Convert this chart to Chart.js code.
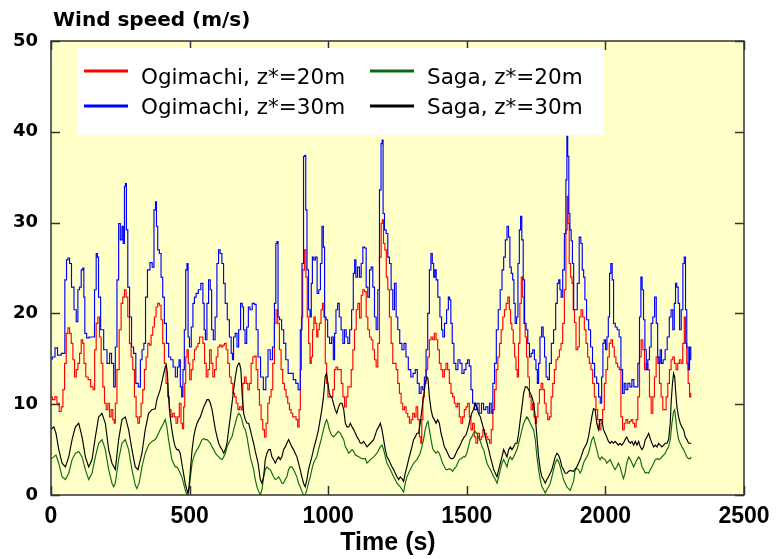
<!DOCTYPE html>
<html>
<head>
<meta charset="utf-8">
<script src="https://cdn.jsdelivr.net/npm/chart.js@4.4.1/dist/chart.umd.min.js"></script>
<style>
html,body{margin:0;padding:0;background:#fff;}
#c{display:block;}
</style>
</head>
<body>
<canvas id="c" width="778" height="559"></canvas>
<script>
// Axis ticks
const xTicks = [0, 500, 1000, 1500, 2000, 2500];
const yTicks = [0, 10, 20, 30, 40, 50];
const seriesNames = ["Ogimachi, z*=20m", "Saga, z*=20m", "Ogimachi, z*=30m", "Saga, z*=30m"];

// [time (s), wind speed (m/s)]
const ogimachi20 = [[0,10.8],[10,10.5],[18,10.8],[25,10.1],[34,9.2],[40,9.7],[46,11.6],[52,14.5],[58,17.8],[64,18.4],[70,17.8],[76,16.7],[82,14.9],[88,13.0],[94,13.8],[100,14.5],[106,15.6],[112,17.1],[117,16.7],[121,14.5],[130,13.0],[138,12.7],[148,11.9],[155,11.6],[160,16.0],[166,18.9],[172,19.6],[178,17.4],[184,14.5],[190,11.9],[196,10.1],[202,9.4],[208,10.1],[214,8.6],[220,9.4],[226,8.3],[230,7.9],[234,10.1],[242,13.8],[250,18.2],[256,21.1],[262,21.8],[268,22.6],[274,21.8],[280,19.6],[286,16.7],[292,15.2],[298,13.8],[304,10.8],[310,8.6],[316,7.9],[322,8.6],[328,10.1],[334,11.6],[340,13.8],[346,15.2],[352,16.7],[358,16.5],[364,17.6],[370,18.5],[376,19.6],[382,20.7],[388,21.1],[394,20.9],[400,19.3],[406,16.7],[412,14.5],[418,12.3],[424,10.8],[430,9.4],[436,8.6],[442,9.0],[448,8.6],[454,7.9],[460,8.6],[466,10.1],[472,7.9],[476,7.3],[481,9.7],[484,12.3],[488,15.2],[493,16.0],[498,14.5],[503,12.7],[509,13.8],[515,14.9],[520,16.0],[527,16.3],[533,16.7],[539,17.4],[545,17.4],[551,16.7],[557,14.5],[563,13.0],[569,13.8],[575,16.0],[581,14.5],[587,13.0],[593,13.8],[599,15.2],[605,16.3],[611,16.5],[617,16.3],[623,16.5],[629,16.7],[635,16.0],[641,14.5],[647,13.0],[653,12.3],[659,11.2],[665,10.8],[671,10.1],[677,9.4],[683,9.7],[689,9.4],[695,12.3],[701,13.0],[707,12.3],[713,11.6],[719,12.3],[725,14.5],[731,15.2],[737,15.3],[743,13.8],[749,11.6],[755,9.9],[761,8.3],[767,7.2],[773,6.4],[779,7.9],[785,10.1],[791,10.8],[797,11.6],[803,14.5],[809,18.9],[815,20.4],[821,18.9],[827,16.0],[833,13.8],[839,12.3],[845,11.6],[851,10.8],[857,10.1],[863,9.4],[869,9.0],[875,8.6],[881,8.6],[887,8.3],[893,7.5],[897,9.4],[902,13.8],[905,19.6],[911,24.8],[917,27.0],[922,24.0],[927,19.6],[932,16.7],[937,14.5],[941,15.2],[946,18.2],[951,19.6],[956,18.9],[961,17.4],[965,18.2],[971,18.9],[977,20.4],[982,21.1],[987,19.6],[992,14.5],[997,12.3],[1001,10.8],[1007,10.8],[1013,10.8],[1020,11.6],[1025,13.8],[1031,14.1],[1037,13.8],[1044,13.8],[1050,12.3],[1056,10.8],[1062,9.7],[1068,10.8],[1074,11.9],[1080,11.9],[1086,13.8],[1092,16.0],[1098,18.2],[1104,20.4],[1110,21.1],[1116,19.5],[1122,22.0],[1128,22.6],[1134,22.4],[1140,19.6],[1146,18.2],[1152,17.4],[1158,17.1],[1164,16.0],[1170,14.9],[1176,14.1],[1182,16.7],[1188,26.2],[1194,29.9],[1197,30.3],[1202,27.7],[1207,27.0],[1212,24.0],[1218,22.6],[1224,19.6],[1230,16.7],[1236,14.5],[1242,14.5],[1248,13.8],[1254,12.3],[1260,11.2],[1266,10.1],[1272,9.4],[1278,9.7],[1284,9.0],[1290,8.6],[1296,7.9],[1302,8.3],[1308,9.0],[1314,8.6],[1320,9.7],[1326,8.3],[1332,6.4],[1336,5.7],[1339,8.3],[1344,10.8],[1350,12.3],[1356,13.8],[1362,15.2],[1368,17.1],[1374,17.4],[1380,17.1],[1386,17.8],[1392,17.1],[1398,16.0],[1404,14.5],[1410,13.8],[1416,13.0],[1422,13.8],[1428,14.5],[1434,13.8],[1440,12.3],[1446,11.2],[1452,10.8],[1458,10.1],[1464,9.7],[1470,10.1],[1476,8.6],[1482,7.9],[1488,8.6],[1494,9.4],[1500,9.7],[1506,10.1],[1512,8.6],[1518,7.2],[1524,7.9],[1530,6.4],[1536,5.7],[1542,6.8],[1549,6.1],[1555,6.4],[1561,7.2],[1567,6.8],[1573,6.4],[1579,6.1],[1585,5.7],[1591,7.2],[1597,9.4],[1603,11.6],[1609,13.8],[1615,15.2],[1621,16.7],[1627,18.2],[1633,19.6],[1639,20.4],[1645,21.1],[1651,21.8],[1656,20.4],[1660,18.9],[1665,18.2],[1670,16.7],[1675,15.2],[1680,13.8],[1684,13.0],[1689,16.7],[1694,21.1],[1699,24.0],[1704,21.8],[1708,18.9],[1713,17.4],[1718,15.2],[1723,13.0],[1729,10.8],[1735,9.4],[1740,10.1],[1745,8.6],[1749,7.9],[1754,8.6],[1759,10.1],[1765,11.6],[1771,12.3],[1777,11.6],[1783,10.1],[1789,9.0],[1795,8.3],[1801,8.6],[1807,10.8],[1813,12.3],[1819,13.8],[1825,14.9],[1831,15.2],[1837,16.0],[1843,16.7],[1849,18.9],[1855,22.6],[1860,29.2],[1864,32.9],[1867,29.9],[1872,25.5],[1877,24.0],[1882,23.3],[1886,20.4],[1891,19.0],[1897,16.0],[1903,16.3],[1909,19.6],[1915,20.4],[1921,19.6],[1927,18.2],[1933,16.7],[1939,15.2],[1945,14.5],[1951,13.8],[1957,12.3],[1963,10.8],[1969,9.4],[1975,8.3],[1981,7.2],[1987,7.9],[1993,9.4],[1999,12.3],[2005,13.8],[2011,15.2],[2017,16.7],[2023,17.1],[2029,16.3],[2035,15.2],[2041,14.5],[2047,14.1],[2053,13.8],[2059,8.6],[2065,7.2],[2071,7.9],[2077,8.3],[2084,7.9],[2090,8.1],[2096,8.3],[2102,7.9],[2108,7.5],[2114,8.3],[2120,10.8],[2126,15.2],[2132,17.1],[2138,16.0],[2144,13.8],[2150,14.5],[2156,13.8],[2162,10.8],[2168,9.0],[2174,10.8],[2180,13.0],[2186,15.2],[2192,14.5],[2198,12.3],[2204,10.8],[2210,9.4],[2216,9.4],[2222,10.8],[2228,12.3],[2234,13.8],[2240,14.9],[2246,15.2],[2252,14.5],[2258,13.8],[2264,14.5],[2270,14.9],[2276,14.5],[2282,16.7],[2287,19.6],[2291,16.7],[2296,14.5],[2301,12.3],[2306,10.8],[2310,11.2]];

const ogimachi30 = [[0,15.0],[10,15.2],[19,16.2],[28,15.4],[46,15.6],[54,23.7],[58,25.9],[64,26.1],[70,25.5],[78,22.9],[88,20.4],[94,19.1],[100,22.6],[106,22.9],[112,24.8],[117,25.0],[120,21.8],[124,17.8],[133,17.3],[142,17.4],[154,17.4],[160,22.6],[166,26.6],[169,26.2],[174,21.8],[184,18.2],[196,16.0],[208,14.5],[215,15.6],[222,14.5],[230,11.9],[234,16.3],[242,23.7],[246,29.9],[254,28.1],[258,29.6],[263,27.7],[267,34.0],[270,34.3],[274,29.2],[280,22.9],[287,19.6],[294,16.3],[302,15.6],[310,12.3],[320,11.9],[325,14.9],[332,16.0],[338,16.7],[344,21.8],[352,24.8],[362,25.6],[368,25.1],[375,31.4],[379,32.3],[382,29.6],[388,27.0],[394,26.6],[400,24.0],[406,21.8],[412,18.9],[421,16.7],[428,15.2],[436,14.9],[445,14.1],[452,13.0],[460,14.1],[464,14.9],[469,11.9],[474,10.8],[478,13.8],[484,18.2],[488,24.8],[493,25.5],[496,17.4],[503,16.3],[509,18.5],[515,21.1],[520,21.8],[527,22.2],[536,22.6],[545,23.3],[551,21.1],[554,18.2],[560,17.1],[565,21.1],[572,23.7],[577,22.6],[582,18.2],[589,17.1],[595,19.6],[602,25.5],[607,27.0],[613,26.6],[620,25.5],[625,23.3],[632,21.1],[640,19.3],[647,17.4],[653,15.6],[656,14.9],[661,17.4],[668,17.8],[674,16.3],[680,18.2],[688,21.1],[692,20.7],[697,18.2],[703,16.7],[709,18.5],[715,20.7],[721,20.4],[731,21.1],[737,21.0],[743,18.2],[751,15.2],[761,13.0],[771,11.6],[779,13.0],[787,16.0],[795,14.9],[803,16.3],[809,21.1],[813,27.7],[817,27.9],[821,19.6],[828,19.3],[836,18.2],[843,16.7],[851,14.9],[860,13.4],[869,13.4],[879,12.7],[887,12.3],[896,11.6],[903,18.2],[908,25.5],[914,37.3],[917,37.4],[921,31.4],[926,24.8],[932,20.4],[937,19.6],[941,23.3],[945,26.2],[951,25.9],[957,26.2],[963,22.2],[969,22.6],[975,25.5],[980,29.6],[985,27.3],[989,19.6],[995,19.3],[1001,17.4],[1009,16.7],[1016,17.4],[1021,14.9],[1025,17.8],[1031,20.4],[1037,21.1],[1043,19.6],[1050,18.2],[1056,16.7],[1062,18.2],[1068,17.4],[1074,16.7],[1081,18.2],[1088,20.4],[1093,24.4],[1098,25.9],[1102,24.0],[1110,25.1],[1116,24.0],[1122,25.5],[1128,27.3],[1134,27.2],[1140,22.9],[1146,21.8],[1152,24.8],[1158,25.1],[1164,22.9],[1170,19.6],[1176,18.2],[1182,22.6],[1188,33.6],[1193,38.7],[1196,39.1],[1200,31.0],[1206,29.2],[1212,28.8],[1218,26.2],[1224,25.5],[1230,22.6],[1236,20.4],[1242,23.3],[1248,19.6],[1254,18.2],[1262,16.7],[1270,16.0],[1277,16.7],[1284,15.2],[1294,13.8],[1302,13.0],[1310,13.4],[1318,13.8],[1325,12.3],[1332,11.2],[1338,11.9],[1344,11.6],[1350,13.0],[1356,16.0],[1362,20.0],[1368,24.8],[1373,26.6],[1378,25.5],[1383,24.0],[1387,24.8],[1392,23.7],[1399,21.8],[1407,19.6],[1411,18.2],[1416,17.4],[1423,18.9],[1431,20.4],[1436,21.8],[1440,21.5],[1445,18.9],[1450,16.7],[1457,14.5],[1464,13.8],[1472,14.9],[1479,14.5],[1486,13.4],[1494,13.8],[1500,14.5],[1506,14.9],[1512,14.2],[1518,11.6],[1524,10.1],[1533,9.4],[1540,10.1],[1549,9.0],[1557,10.1],[1564,9.4],[1573,9.7],[1579,9.0],[1585,10.1],[1591,9.0],[1597,12.3],[1603,14.5],[1610,18.2],[1617,20.4],[1624,22.6],[1630,24.8],[1636,26.2],[1642,28.1],[1648,29.6],[1653,28.4],[1658,25.1],[1663,24.4],[1668,23.7],[1672,21.1],[1677,18.9],[1682,19.6],[1687,25.5],[1692,29.2],[1696,30.7],[1701,28.1],[1706,23.7],[1711,18.9],[1717,18.2],[1723,16.7],[1729,15.2],[1735,15.6],[1741,16.0],[1747,14.9],[1752,13.8],[1757,12.3],[1761,14.5],[1767,17.4],[1773,18.5],[1778,17.4],[1783,15.2],[1789,13.0],[1795,12.7],[1801,14.5],[1809,16.7],[1817,18.2],[1824,21.1],[1829,23.3],[1834,23.7],[1838,22.6],[1843,21.8],[1849,24.8],[1855,28.8],[1860,34.7],[1862,39.5],[1866,37.3],[1870,31.0],[1874,29.2],[1879,28.0],[1883,25.5],[1888,20.4],[1895,20.4],[1902,23.3],[1909,28.4],[1914,27.7],[1919,24.8],[1924,24.0],[1928,21.5],[1936,19.3],[1943,18.2],[1950,16.3],[1957,14.5],[1965,13.0],[1972,12.3],[1979,10.8],[1984,10.1],[1989,13.0],[1993,16.7],[1998,17.1],[2003,16.0],[2008,17.4],[2013,19.6],[2017,24.4],[2022,25.5],[2027,23.7],[2032,18.9],[2039,18.5],[2046,18.2],[2053,17.4],[2059,13.8],[2065,11.2],[2071,12.3],[2077,11.6],[2085,12.3],[2092,11.9],[2099,12.7],[2106,11.9],[2114,11.9],[2120,14.5],[2126,19.6],[2130,24.0],[2135,22.6],[2140,19.3],[2145,16.0],[2150,13.8],[2156,14.9],[2162,16.3],[2168,18.9],[2174,19.6],[2181,21.8],[2186,18.9],[2191,15.2],[2195,14.5],[2200,16.0],[2205,14.5],[2212,14.9],[2219,16.0],[2227,17.4],[2234,19.6],[2240,20.4],[2246,18.2],[2251,21.1],[2255,23.3],[2260,22.9],[2265,21.1],[2270,18.2],[2277,20.4],[2282,25.5],[2287,26.2],[2291,20.4],[2296,16.3],[2301,13.8],[2306,16.3],[2310,14.9]];

const saga20 = [[0,4.0],[10,4.2],[18,4.4],[28,3.5],[40,2.0],[52,1.7],[64,2.4],[76,3.9],[88,4.6],[100,4.8],[112,4.2],[124,2.8],[136,1.7],[148,2.4],[160,4.2],[172,5.7],[184,6.1],[196,5.0],[208,2.8],[220,1.3],[226,0.9],[232,1.3],[244,3.9],[256,5.7],[268,6.1],[280,5.0],[292,2.8],[304,1.1],[310,0.7],[318,1.3],[328,3.1],[340,4.6],[352,5.5],[364,5.9],[376,6.1],[382,6.4],[394,7.2],[406,7.9],[412,8.3],[418,7.5],[424,6.1],[430,5.0],[436,3.9],[442,3.5],[448,3.1],[454,3.1],[460,2.8],[466,2.4],[472,2.0],[478,1.3],[484,0.6],[490,0],[494,0],[498,0.6],[503,2.0],[509,3.5],[515,4.2],[520,4.6],[527,5.0],[533,5.3],[539,5.7],[545,6.1],[551,6.2],[557,6.1],[563,6.1],[569,5.9],[575,5.7],[581,5.3],[587,5.0],[593,4.6],[599,4.4],[605,4.2],[611,4.0],[617,3.9],[623,4.2],[629,4.6],[635,5.3],[641,5.7],[647,6.1],[653,6.4],[659,7.2],[665,7.9],[671,8.6],[677,9.0],[683,8.8],[689,8.3],[695,7.5],[701,7.2],[707,6.4],[713,5.3],[719,4.2],[725,3.5],[731,2.8],[737,1.7],[743,0.9],[749,0.4],[755,0],[761,0.6],[767,2.0],[773,2.8],[779,3.1],[785,2.9],[791,2.8],[797,2.4],[803,2.0],[809,1.7],[815,1.8],[821,2.0],[827,1.7],[833,1.3],[839,1.3],[845,1.7],[851,2.0],[857,2.8],[863,3.1],[869,3.1],[875,2.8],[881,2.4],[887,2.0],[893,1.3],[899,0.9],[905,0.4],[911,0],[917,0],[923,0.6],[929,1.3],[935,2.0],[941,2.8],[947,3.5],[953,3.9],[959,4.2],[965,5.0],[971,5.7],[977,6.4],[983,7.2],[989,7.9],[994,8.3],[999,7.9],[1004,7.2],[1009,6.8],[1013,6.6],[1019,6.4],[1025,6.6],[1031,6.8],[1037,7.0],[1044,6.8],[1050,6.4],[1056,6.1],[1062,5.3],[1068,5.0],[1074,4.6],[1080,4.8],[1086,5.0],[1092,4.8],[1098,4.4],[1110,4.2],[1122,4.0],[1134,4.0],[1140,3.5],[1152,3.9],[1164,4.2],[1176,4.6],[1188,5.3],[1194,5.5],[1200,5.0],[1206,4.2],[1212,3.5],[1224,2.8],[1236,2.0],[1248,1.3],[1260,0.9],[1266,0.6],[1272,0.3],[1278,1.3],[1284,2.0],[1296,2.8],[1308,3.5],[1320,3.9],[1332,4.6],[1344,6.1],[1350,7.2],[1356,7.9],[1360,8.1],[1365,7.2],[1371,6.1],[1377,5.1],[1383,4.8],[1389,4.6],[1395,4.8],[1401,4.6],[1407,4.0],[1413,3.5],[1419,3.1],[1425,2.8],[1431,2.8],[1437,2.9],[1443,2.8],[1449,2.6],[1455,2.9],[1461,3.1],[1467,3.5],[1473,3.9],[1479,4.0],[1488,4.2],[1494,4.2],[1500,4.6],[1506,5.3],[1512,6.1],[1518,6.4],[1524,6.8],[1530,7.0],[1536,6.8],[1542,6.4],[1549,5.9],[1555,5.3],[1561,5.0],[1567,4.2],[1573,3.5],[1579,3.1],[1585,2.8],[1591,2.4],[1597,2.0],[1603,1.7],[1609,1.3],[1615,2.0],[1621,2.8],[1627,3.5],[1633,3.9],[1639,3.5],[1645,3.1],[1651,3.9],[1657,4.2],[1663,3.9],[1669,4.2],[1675,4.6],[1681,5.0],[1687,5.7],[1693,6.4],[1699,7.2],[1705,7.9],[1711,8.3],[1717,8.6],[1723,8.3],[1729,7.9],[1735,7.5],[1741,7.2],[1747,6.1],[1753,4.2],[1759,2.8],[1765,1.7],[1771,0.9],[1777,0.6],[1783,0.2],[1789,0.6],[1795,0.9],[1801,1.3],[1807,2.0],[1813,2.8],[1819,3.5],[1825,3.9],[1831,3.7],[1837,3.1],[1843,2.4],[1849,1.7],[1855,1.3],[1861,0.9],[1867,0.7],[1873,0.5],[1879,1.0],[1885,1.5],[1891,2.8],[1897,2.9],[1903,2.8],[1909,2.4],[1915,2.8],[1921,3.5],[1927,3.9],[1933,4.2],[1939,4.6],[1945,5.3],[1951,6.1],[1957,6.4],[1963,5.7],[1969,5.0],[1975,4.2],[1981,3.9],[1987,4.2],[1993,4.0],[1999,3.9],[2005,3.5],[2011,3.7],[2017,3.9],[2023,3.5],[2029,3.1],[2035,2.8],[2041,3.1],[2047,3.5],[2053,3.1],[2059,2.4],[2065,1.8],[2071,2.4],[2077,3.5],[2084,4.2],[2090,3.9],[2096,3.5],[2102,3.1],[2108,3.5],[2114,3.9],[2120,4.2],[2126,3.9],[2132,3.1],[2138,2.8],[2144,2.4],[2150,2.5],[2156,2.4],[2162,2.8],[2168,3.1],[2174,3.5],[2180,3.9],[2186,4.0],[2192,3.9],[2198,4.0],[2204,4.2],[2210,4.4],[2216,4.6],[2222,5.0],[2228,5.3],[2234,6.1],[2240,7.9],[2246,9.2],[2250,9.4],[2253,8.6],[2258,7.2],[2264,6.1],[2270,5.7],[2276,5.3],[2282,5.0],[2288,4.6],[2294,4.2],[2300,4.0],[2306,4.0],[2310,4.2]];

const saga30 = [[0,7.2],[10,7.5],[18,6.8],[28,5.0],[40,3.5],[52,3.1],[64,4.2],[76,6.1],[88,7.5],[100,7.9],[112,6.4],[124,4.2],[136,3.1],[148,3.9],[160,6.4],[172,8.6],[184,9.0],[196,7.9],[208,5.0],[220,3.5],[232,2.8],[244,6.1],[256,8.3],[268,8.6],[280,7.2],[292,5.0],[304,3.1],[314,2.8],[328,4.6],[340,7.2],[352,9.0],[364,9.4],[376,9.5],[382,10.5],[394,11.6],[404,13.0],[412,14.1],[416,14.3],[420,13.4],[424,10.8],[430,8.6],[436,7.2],[442,6.1],[448,5.3],[454,5.0],[460,5.0],[466,4.6],[472,3.5],[478,2.4],[484,1.3],[490,0.6],[494,0.2],[498,0.9],[503,2.8],[509,5.0],[515,6.4],[520,7.2],[527,7.9],[533,8.3],[539,8.6],[545,9.2],[551,9.7],[557,10.1],[563,10.5],[569,10.5],[575,10.1],[581,9.4],[587,8.3],[593,7.2],[599,6.4],[605,5.7],[611,5.3],[617,5.0],[623,4.6],[629,5.0],[635,5.7],[641,7.2],[647,8.6],[653,10.1],[659,11.6],[665,13.0],[671,14.1],[677,14.5],[680,14.5],[685,13.8],[690,10.8],[695,9.0],[701,8.3],[707,7.9],[713,7.9],[719,7.2],[725,6.4],[731,5.7],[737,4.8],[747,3.5],[755,1.7],[761,1.3],[767,2.0],[773,3.9],[779,4.6],[785,5.0],[791,5.0],[797,4.2],[803,3.9],[809,3.5],[815,3.9],[821,4.2],[827,3.9],[833,4.2],[839,5.0],[845,5.3],[851,5.7],[857,6.1],[863,5.7],[869,5.3],[875,5.0],[881,4.6],[887,4.2],[893,3.5],[899,2.8],[905,2.0],[911,1.3],[917,0.9],[923,1.7],[929,2.8],[935,3.5],[941,4.2],[947,5.0],[953,5.7],[959,6.4],[965,7.2],[971,8.3],[977,9.4],[983,10.8],[989,13.0],[994,13.4],[999,12.3],[1004,11.2],[1009,10.8],[1013,10.8],[1019,10.1],[1025,9.4],[1031,9.0],[1037,9.7],[1044,10.1],[1050,10.1],[1056,9.4],[1062,7.9],[1068,7.5],[1074,7.5],[1080,7.9],[1086,7.5],[1092,7.2],[1098,6.8],[1104,6.4],[1110,6.1],[1116,5.7],[1122,5.7],[1128,5.9],[1140,5.3],[1152,5.7],[1164,6.1],[1176,7.2],[1182,7.5],[1188,7.9],[1194,7.2],[1200,6.1],[1206,5.0],[1212,4.2],[1218,3.9],[1224,3.5],[1230,3.1],[1236,2.8],[1242,2.4],[1248,2.0],[1254,1.7],[1260,2.0],[1266,1.8],[1272,1.5],[1278,2.4],[1284,3.1],[1290,3.9],[1296,4.6],[1302,5.3],[1308,6.1],[1314,6.4],[1320,6.8],[1326,6.8],[1332,7.9],[1338,9.4],[1344,10.8],[1350,12.3],[1356,13.0],[1360,12.8],[1365,10.8],[1371,9.4],[1377,8.6],[1383,8.3],[1389,7.9],[1395,8.3],[1401,7.9],[1407,6.8],[1413,6.1],[1419,5.3],[1425,5.0],[1431,4.6],[1437,4.2],[1443,4.0],[1449,4.0],[1455,4.2],[1461,4.6],[1467,5.0],[1473,5.3],[1479,5.7],[1485,6.1],[1491,6.4],[1497,6.6],[1503,7.2],[1509,7.9],[1512,8.4],[1518,9.0],[1524,9.4],[1530,10.1],[1536,9.7],[1542,9.0],[1549,8.6],[1555,7.9],[1561,7.2],[1567,6.4],[1573,5.7],[1579,5.0],[1585,4.2],[1591,3.5],[1597,2.8],[1603,2.4],[1609,2.0],[1615,2.8],[1621,3.5],[1627,4.2],[1633,5.0],[1639,4.6],[1645,4.2],[1651,5.0],[1657,5.3],[1663,5.0],[1669,5.3],[1675,5.7],[1681,5.7],[1687,6.8],[1693,8.3],[1699,9.7],[1705,11.2],[1711,11.9],[1717,11.9],[1723,11.6],[1729,11.2],[1735,10.8],[1741,10.1],[1747,8.6],[1753,6.4],[1759,4.2],[1765,2.8],[1771,2.0],[1777,1.7],[1783,1.3],[1789,1.7],[1795,2.0],[1801,2.4],[1807,2.8],[1813,3.5],[1819,4.2],[1825,4.6],[1831,4.4],[1837,3.9],[1843,3.1],[1849,2.8],[1855,2.4],[1861,2.4],[1867,2.6],[1873,2.7],[1885,2.6],[1897,3.1],[1909,3.9],[1921,5.0],[1933,5.7],[1939,6.4],[1945,7.5],[1951,8.6],[1957,9.5],[1963,9.4],[1969,7.9],[1975,7.2],[1981,8.3],[1987,8.3],[1993,7.2],[1999,6.8],[2005,6.4],[2011,5.9],[2017,5.7],[2023,5.9],[2029,5.7],[2035,5.9],[2041,5.7],[2047,5.5],[2053,5.7],[2059,5.5],[2065,5.7],[2071,6.1],[2077,6.4],[2084,5.9],[2090,5.7],[2096,5.9],[2102,5.5],[2108,5.9],[2114,5.5],[2120,5.9],[2126,5.3],[2132,5.0],[2138,5.3],[2144,6.1],[2150,6.4],[2156,6.8],[2162,6.2],[2168,5.7],[2174,5.3],[2180,5.5],[2186,5.3],[2192,5.7],[2198,5.5],[2204,5.3],[2210,5.5],[2216,5.7],[2222,5.7],[2228,6.1],[2234,7.9],[2237,10.1],[2242,12.3],[2246,13.4],[2250,13.0],[2253,11.6],[2258,9.7],[2264,8.6],[2270,7.9],[2276,7.5],[2282,7.2],[2288,6.4],[2294,6.1],[2300,5.7],[2306,5.7],[2310,5.7]];

const seriesData = [ogimachi20, saga20, ogimachi30, saga30];
const seriesColors = ['#ff0000', '#0d6b0d', '#0000ff', '#000000'];
const seriesStepped = ['middle', false, 'middle', false];
const drawOrder = [3, 1, 2, 0]; // lower draws on top

const toXY = arr => arr.map(p => ({x: p[0], y: p[1]}));

const framePlugin = {
  id: 'frame',
  beforeDraw(chart) {
    const {ctx, chartArea: a} = chart;
    ctx.save();
    ctx.fillStyle = '#ffffff';
    ctx.fillRect(0, 0, chart.width, chart.height);
    ctx.fillStyle = '#ffffc8';
    ctx.fillRect(a.left, a.top, a.right - a.left, a.bottom - a.top);
    ctx.restore();
  },
  afterDraw(chart) {
    const {ctx, chartArea: a, scales} = chart;
    const xs = scales.x, ys = scales.y;
    ctx.save();
    // inward tick marks
    ctx.strokeStyle = '#333333';
    ctx.lineWidth = 1.5;
    ctx.beginPath();
    xTicks.forEach(v => {
      const px = Math.round(xs.getPixelForValue(v)) + 0.5;
      ctx.moveTo(px, a.bottom); ctx.lineTo(px, a.bottom - 9);
      ctx.moveTo(px, a.top); ctx.lineTo(px, a.top + 9);
    });
    yTicks.forEach(v => {
      const py = Math.round(ys.getPixelForValue(v)) + 0.5;
      ctx.moveTo(a.left, py); ctx.lineTo(a.left + 9, py);
      ctx.moveTo(a.right, py); ctx.lineTo(a.right - 9, py);
    });
    ctx.stroke();
    // frame
    ctx.strokeStyle = '#333333';
    ctx.lineWidth = 1.5;
    ctx.strokeRect(a.left, a.top, a.right - a.left, a.bottom - a.top);

    // legend box
    ctx.fillStyle = '#ffffff';
    ctx.fillRect(78, 48, 526, 87);
    const cols = [84, 370];
    const rows = [{line: 71, base: 84}, {line: 106, base: 114}];
    ctx.font = '21.5px "DejaVu Sans"';
    ctx.textBaseline = 'alphabetic';
    ctx.textAlign = 'left';
    seriesNames.forEach((name, i) => {
      const c = i % 2, r = Math.floor(i / 2);
      const x0 = cols[c];
      ctx.strokeStyle = seriesColors[i];
      ctx.lineWidth = 3;
      ctx.beginPath();
      ctx.moveTo(x0, rows[r].line);
      ctx.lineTo(x0 + 44, rows[r].line);
      ctx.stroke();
      ctx.fillStyle = '#000000';
      ctx.fillText(name, x0 + 57, rows[r].base);
    });

    // axis titles
    ctx.fillStyle = '#000000';
    ctx.font = 'bold 20px "DejaVu Sans"';
    ctx.textAlign = 'left';
    ctx.fillText('Wind speed (m/s)', 53, 26);
    ctx.font = 'bold 25px "Liberation Sans"';
    ctx.textAlign = 'center';
    ctx.fillText('Time (s)', 388, 550);
    ctx.restore();
  }
};

new Chart(document.getElementById('c'), {
  type: 'line',
  data: {
    datasets: seriesData.map((d, i) => ({
      label: seriesNames[i],
      data: toXY(d),
      borderColor: seriesColors[i],
      backgroundColor: seriesColors[i],
      borderWidth: 1.15,
      pointRadius: 0,
      stepped: seriesStepped[i],
      tension: 0,
      fill: false,
      order: drawOrder[i]
    }))
  },
  options: {
    responsive: false,
    devicePixelRatio: 1,
    animation: false,
    events: [],
    layout: {padding: {top: 41, right: 34, left: 0, bottom: 0}},
    scales: {
      x: {
        type: 'linear', min: 0, max: 2500,
        afterBuildTicks: s => { s.ticks = xTicks.map(v => ({value: v})); },
        afterFit: s => { s.height = 64; },
        grid: {display: false, drawTicks: false},
        border: {display: false},
        ticks: {color: '#000', padding: 8, maxRotation: 0, callback: v => String(v),
                font: {family: '"Liberation Sans"', weight: 'bold', size: 23}}
      },
      y: {
        type: 'linear', min: 0, max: 50,
        afterBuildTicks: s => { s.ticks = yTicks.map(v => ({value: v})); },
        afterFit: s => { s.width = 51; },
        grid: {display: false, drawTicks: false},
        border: {display: false},
        ticks: {color: '#000', padding: 13, callback: v => String(v),
                font: {family: '"DejaVu Sans"', weight: 'bold', size: 18}}
      }
    },
    plugins: {legend: {display: false}, tooltip: {enabled: false}}
  },
  plugins: [framePlugin]
});
</script>
</body>
</html>
